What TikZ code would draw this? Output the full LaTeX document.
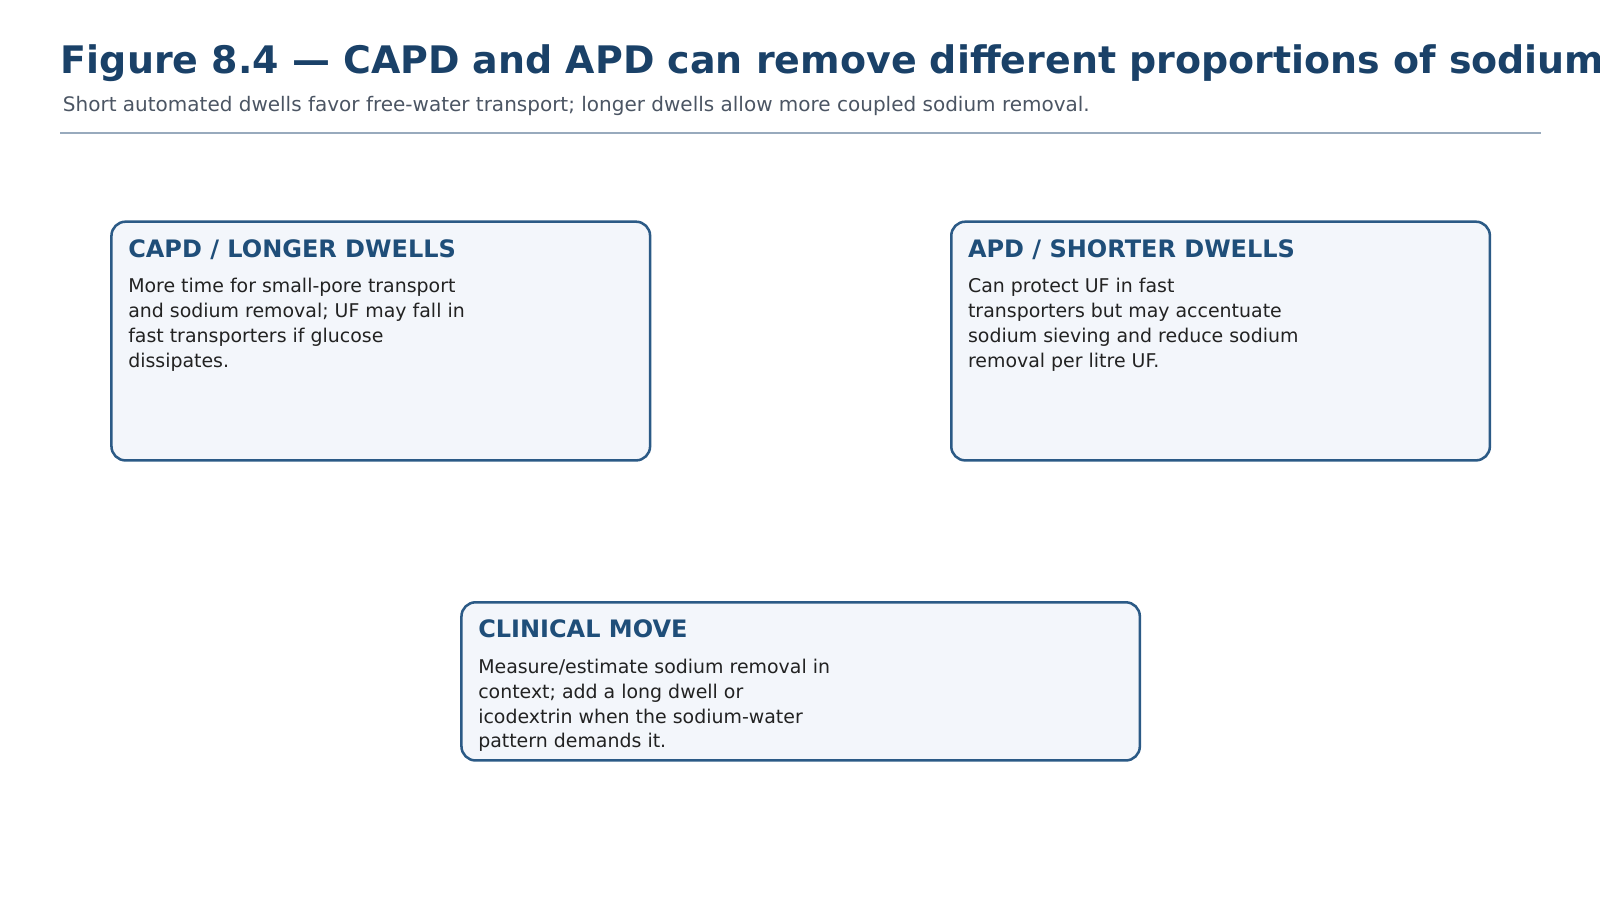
\documentclass[tikz,border=0pt]{standalone}
\usepackage{fontspec}
\setmainfont{DejaVu Sans}
\definecolor{titleblue}{HTML}{1A4168}
\definecolor{subgray}{HTML}{4B5563}
\definecolor{rulegray}{HTML}{98AABD}
\definecolor{headblue}{HTML}{1F4E79}
\definecolor{cardline}{HTML}{2B5A86}
\definecolor{cardfill}{HTML}{F3F6FB}
\definecolor{bodyink}{HTML}{222222}

\begin{document}
\begin{tikzpicture}[x=0.010204cm,y=-0.010204cm,
  card/.style={draw=cardline,fill=cardfill,line width=0.72pt,rounded corners=4pt,anchor=north west,inner sep=0pt},
  head/.style={anchor=base west,inner sep=0pt,text=headblue,font=\bfseries\fontsize{6.83}{8}\selectfont},
  body/.style={anchor=base west,inner sep=0pt,text=bodyink,align=left,font=\fontsize{5.39}{7.09}\selectfont}]
\useasboundingbox (0,0) rectangle (1568,882);

% title and subtitle
\path (59,72) node[anchor=base west,inner sep=0pt,text=titleblue,font=\bfseries\fontsize{10.8}{13}\selectfont] (title) {Figure 8.4 --- CAPD and APD can remove different proportions of sodium and water};
\path (61,109) node[anchor=base west,inner sep=0pt,text=subgray,font=\fontsize{5.69}{7}\selectfont] (subtitle) {Short automated dwells favor free-water transport; longer dwells allow more coupled sodium removal.};
\coordinate (ruleL) at (59,130);
\coordinate (ruleR) at (1510,130);
\draw[rulegray,line width=0.5pt] (ruleL) -- (ruleR);

% cards
\path (108,216) node[card,minimum width=5.388cm,minimum height=2.388cm] (capd) {};
\path (931,216) node[card,minimum width=5.388cm,minimum height=2.388cm] (apd) {};
\path (451,589) node[card,minimum width=6.786cm,minimum height=1.582cm] (move) {};

\path (125,252) node[head] (capdhead) {CAPD / LONGER DWELLS};
\path (125,360) node[body] (capdbody) {More time for small-pore transport\\and sodium removal; UF may fall in\\fast transporters if glucose\\dissipates.};

\path (948,252) node[head] (apdhead) {APD / SHORTER DWELLS};
\path (948,360) node[body] (apdbody) {Can protect UF in fast\\transporters but may accentuate\\sodium sieving and reduce sodium\\removal per litre UF.};

\path (468,625) node[head] (movehead) {CLINICAL MOVE};
\path (468,733) node[body] (movebody) {Measure/estimate sodium removal in\\context; add a long dwell or\\icodextrin when the sodium-water\\pattern demands it.};
\end{tikzpicture}
\end{document}
